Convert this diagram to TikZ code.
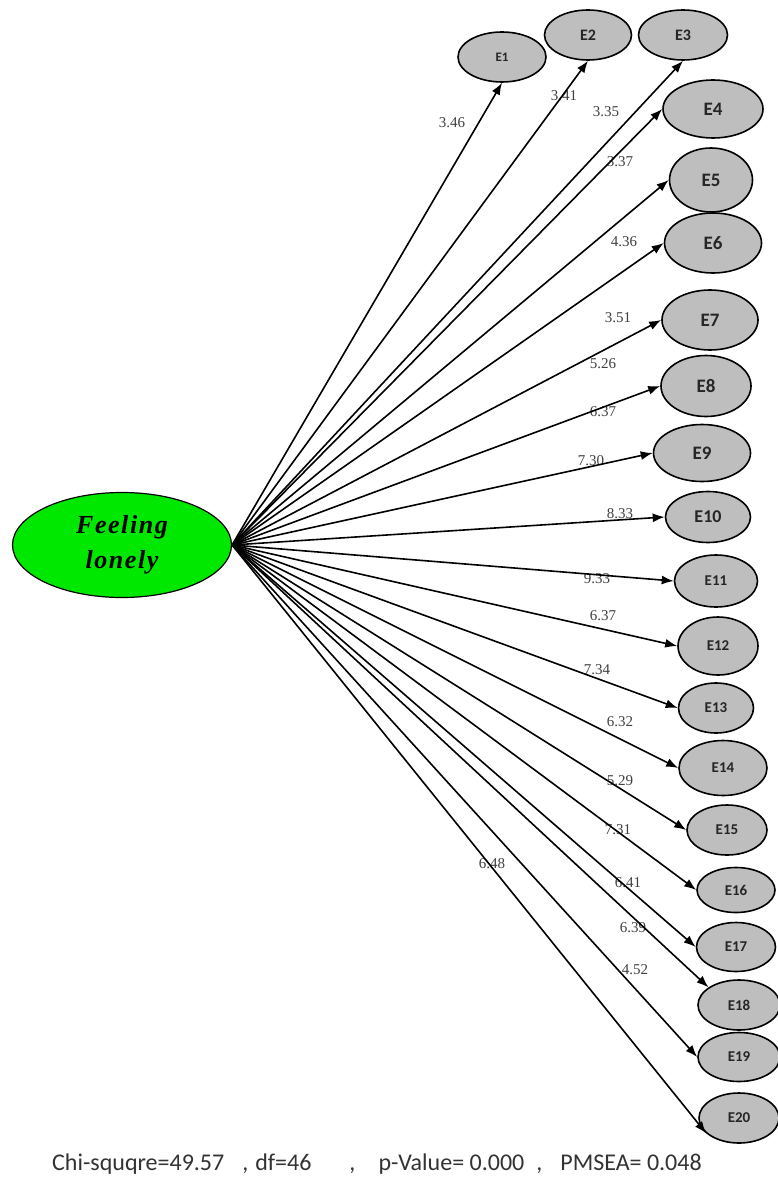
\documentclass[tikz,border=0pt]{standalone}
\usepackage{fontspec}
\setmainfont{Liberation Serif}
\newfontfamily\calib{Carlito}
\newfontfamily\factorfont[LetterSpace=6]{Liberation Serif}
\usetikzlibrary{arrows.meta,shapes.geometric}
\definecolor{lonelygreen}{RGB}{0,232,0}
\definecolor{itemgray}{RGB}{190,190,190}

\begin{document}
\begin{tikzpicture}[x=1pt,y=-1pt,
  item/.style={ellipse,draw,line width=1.6pt,fill=itemgray,inner sep=0pt,text=black!85,font=\calib\bfseries\fontsize{#1}{#1}\selectfont},
  latent/.style={ellipse,draw,line width=1.2pt,fill=lonelygreen,inner sep=0pt,minimum width=219pt,minimum height=105pt,align=center,font=\factorfont\fontsize{26}{35}\selectfont\bfseries\itshape},
  load/.style={-{Latex[length=12pt,width=9pt]},line width=1.6pt},
  coef/.style={font=\fontsize{15}{15}\selectfont,text=black!75,inner sep=0pt}]
\useasboundingbox[fill=white] (0,0) rectangle (778,1177);

\node[latent] (lonely) at (122,545) {Feeling\\lonely};

% indicators
\foreach \n/\x/\y/\w/\h/\s in {1/502/57/88/50/13,2/588/35/87/50/16,3/683/35/89/50/16,
  4/713/109/100/58/19,5/711/180/83/64/19,6/713/243/97/60/19,7/710/320/96/60/19,
  8/706/386/90/61/19,9/702/453/97/57/19,10/708/517/85/51/18,11/716/581/83/52/15,
  12/718/646/80/58/15,13/716/708/75/50/15,14/723/768/88/55/15,15/727/830/80/50/15,
  16/736/890/78/45/15,17/736/947/79/49/15,18/739/1005/82/50/15,19/739/1057/82/49/15,
  20/739/1118/80/50/15}
  \node[item=\s,minimum width=\w pt,minimum height=\h pt] (E\n) at (\x,\y) {E\n};

% coefficients
\foreach \n/\v/\x/\y in {1/3.46/452/123,2/3.41/564/96,3/3.35/606/112,4/3.37/620/162,
  5/4.36/624/242,6/3.51/618/318,7/5.26/603/364,8/6.37/603/412,9/7.30/591/461,
  10/8.33/620/514,11/9.33/597/579,12/6.37/603/616,13/7.34/597/670,14/6.32/620/722,
  15/5.29/620/781,16/7.31/618/830,17/6.41/628/883,18/6.39/633/928,19/4.52/635/970,
  20/6.48/492/864}
  \node[coef] (c\n) at (\x,\y) {\v};

\foreach \n/\a in {1/south,2/south,3/south,4/west,5/west,6/west,7/west,8/west,9/west,
  10/west,11/west,12/west,13/west,14/west,15/west,16/west,17/west,18/150,19/west,20/205}
  \draw[load] (lonely.east) -- (E\n.\a);

\node[font=\calib\fontsize{24}{24}\selectfont,text=black!80,anchor=base west,inner sep=0pt] (fitline) at (52,1170)
  {Chi-squqre=49.57\hspace{18pt},\hspace{7pt}df=46\hspace{38pt},\hspace{23pt}p-Value= 0.000\hspace{12pt},\hspace{18pt}PMSEA= 0.048};
\end{tikzpicture}
\end{document}
